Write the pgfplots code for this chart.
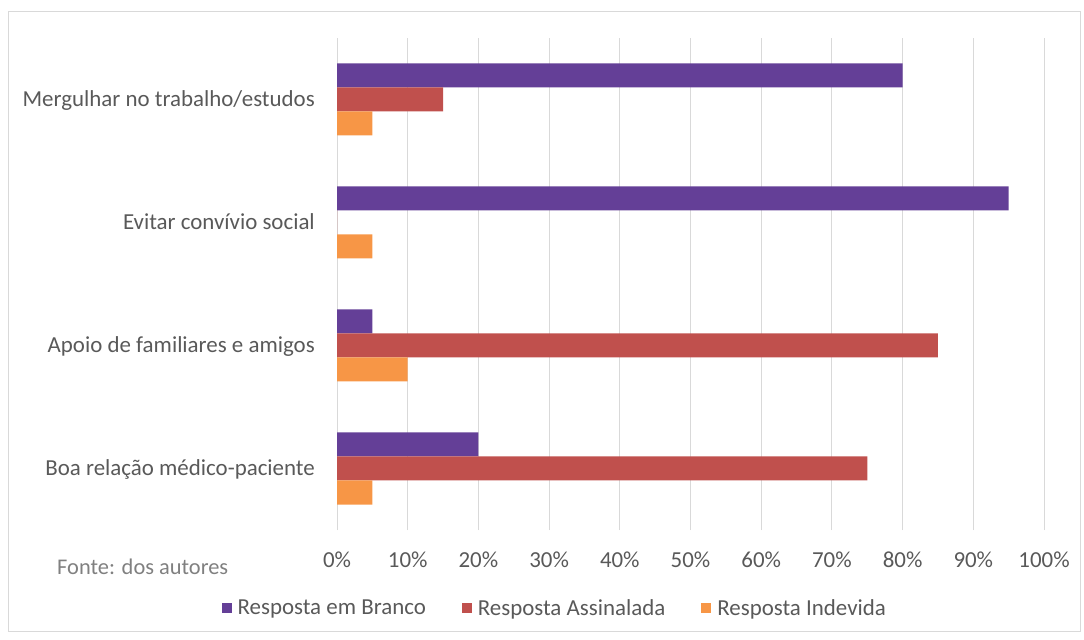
\documentclass[border=0pt]{standalone}
\usepackage{pgfplots}
\pgfplotsset{compat=1.18}
\usepackage{fontspec}
\setmainfont{Carlito}
\definecolor{cBranco}{HTML}{643F97}
\definecolor{cAssin}{HTML}{C0504D}
\definecolor{cIndev}{HTML}{F79646}
\definecolor{txt}{HTML}{595959}
\definecolor{txtlight}{HTML}{808080}
\definecolor{gridc}{HTML}{D9D9D9}
\definecolor{framec}{HTML}{D9D9D9}

% Category order from bottom (0) to top (3)
\pgfplotstableread{
y branco assinalada indevida
0 20 75 5
1 5 85 10
2 95 0 5
3 80 15 5
}\dados

\begin{document}
\begin{tikzpicture}
\path[use as bounding box] (0bp,0bp) rectangle (1084bp,640bp);
\draw[framec, line width=1bp] (8bp,8bp) rectangle (1080bp,628bp);
\begin{axis}[
  at={(337bp,110bp)}, anchor=south west,
  scale only axis, width=707bp, height=492bp,
  xmin=0, xmax=100, ymin=-0.5, ymax=3.5,
  xbar, bar width=24bp,
  xtick={0,10,...,100},
  xticklabels={0\%,10\%,20\%,30\%,40\%,50\%,60\%,70\%,80\%,90\%,100\%},
  ytick={0,1,2,3},
  yticklabels={Boa relação médico-paciente,Apoio de familiares e amigos,Evitar convívio social,Mergulhar no trabalho/estudos},
  xmajorgrids, grid style={gridc, line width=1bp},
  axis line style={draw=none}, major tick length=0pt,
  font=\fontsize{23}{27}\selectfont, text=txt,
  xticklabel style={anchor=base, inner sep=0pt, yshift=-37bp, text=txt},
  yticklabel style={anchor=base east, inner sep=0pt, xshift=-22bp, yshift=-7bp, text=txt},
  legend style={at={(0.308,-0.1585)}, anchor=center, draw=none, fill=none,
    legend columns=3, text=txt, font=\fontsize{23}{27}\selectfont,
    /tikz/every odd column/.append style={column sep=4bp},
    /tikz/every even column/.append style={column sep=34bp}},
  legend image code/.code={\fill[#1] (0bp,-5bp) rectangle (10bp,5bp);},
]
\addplot[fill=cBranco, draw=none, bar shift=24bp] table[x=branco, y=y] {\dados};
\addplot[fill=cAssin, draw=none, bar shift=0bp] table[x=assinalada, y=y] {\dados};
\addplot[fill=cIndev, draw=none, bar shift=-24bp] table[x=indevida, y=y] {\dados};
\legend{Resposta em Branco, Resposta Assinalada, Resposta Indevida}
\end{axis}
\node[anchor=base west, inner sep=0pt, text=txtlight, font=\fontsize{22.5}{27}\selectfont] at (57bp,65bp) {Fonte: dos autores};
\end{tikzpicture}
\end{document}
